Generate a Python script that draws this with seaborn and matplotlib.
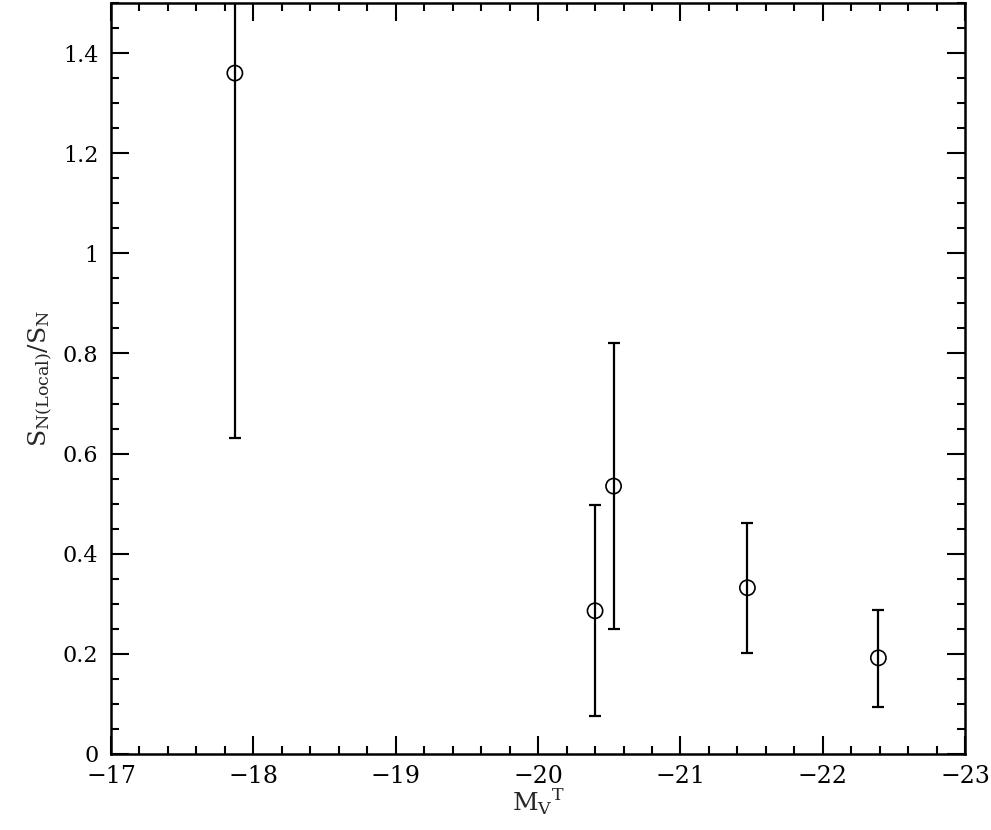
import matplotlib
matplotlib.use("Agg")
import matplotlib.pyplot as plt
import numpy as np
import pandas as pd
import seaborn as sns
from matplotlib.ticker import MultipleLocator

# values
mv = [-17.87, -20.40, -20.53, -21.47, -22.39]
sn_ratio = [1.36, 0.286, 0.535, 0.332, 0.192]
err_low = [0.631, 0.076, 0.250, 0.202, 0.094]
err_high = [1.62, 0.497, 0.821, 0.461, 0.288]

xt = [-17, -18, -19, -20, -21, -22, -23]
yt = [0, 0.2, 0.4, 0.6, 0.8, 1, 1.2, 1.4]
yt_labels = ["0", "0.2", "0.4", "0.6", "0.8", "1", "1.2", "1.4"]

df = pd.DataFrame({"mv": mv, "ratio": sn_ratio, "lo": err_low, "hi": err_high})

sns.set_theme(style="ticks")
plt.rcParams["font.family"] = ["DejaVu Serif"]

fig = plt.figure(figsize=(9.91, 8.3), dpi=100)
ax = fig.add_axes([0.112, 0.0916, 0.862, 0.9048])

yerr = np.array([df["ratio"] - df["lo"], df["hi"] - df["ratio"]])
ax.errorbar(df["mv"], df["ratio"], yerr=yerr, fmt="none", ecolor="black",
            elinewidth=1.6, capsize=4.5, capthick=1.6, zorder=2)
sns.scatterplot(data=df, x="mv", y="ratio", ax=ax, marker="o", s=120,
                facecolor="none", edgecolor="black", linewidth=1.2, zorder=3)

ax.set_xlim(-17, -23)
ax.set_ylim(0, 1.5)
ax.set_xticks(xt)
ax.set_xticklabels([f"\u2212{abs(v)}" for v in xt])
ax.set_yticks(yt)
ax.set_yticklabels(yt_labels)
ax.xaxis.set_minor_locator(MultipleLocator(0.2))
ax.yaxis.set_minor_locator(MultipleLocator(0.05))

ax.tick_params(which="both", direction="in", top=True, right=True,
               colors="black", width=1.5)
ax.tick_params(which="major", length=13)
ax.tick_params(which="minor", length=6)
ax.tick_params(axis="x", which="major", labelsize=17, pad=8)
ax.tick_params(axis="y", which="major", labelsize=16, pad=9)
for sp in ax.spines.values():
    sp.set_linewidth(1.8)
    sp.set_color("black")

ax.set_xlabel(r"$\mathregular{M_V}^{\mathregular{T}}$", fontsize=18, labelpad=-1)
ax.set_ylabel(r"$\mathregular{S_{N(Local)}/S_N}$", fontsize=18, labelpad=6)

fig.savefig("out.png", dpi=100)
